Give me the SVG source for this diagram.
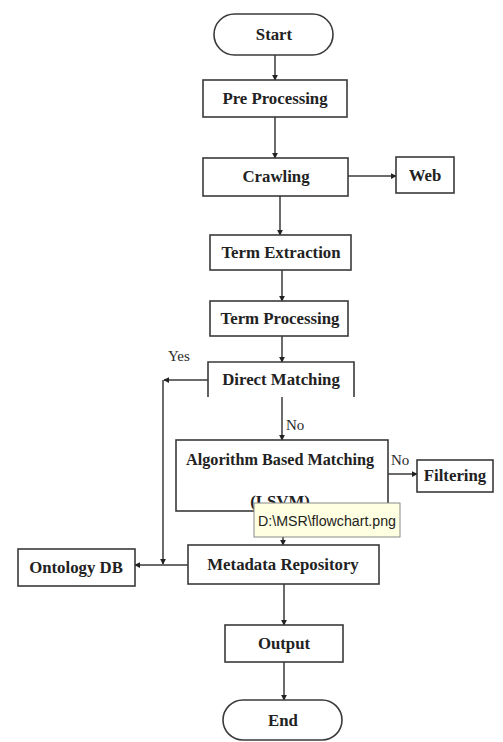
<svg xmlns="http://www.w3.org/2000/svg" width="503" height="742" viewBox="0 0 503 742">
<style>
.box{fill:#fff;stroke:#3a3a3a;stroke-width:1.6}
.t{font-family:"Liberation Serif","Times New Roman",serif;font-weight:bold;font-size:16.8px;fill:#222;text-anchor:middle}
.lbl{font-family:"Liberation Serif","Times New Roman",serif;font-size:15px;fill:#2a2a2a}
.ln{fill:none;stroke:#3a3a3a;stroke-width:1.5}
</style>
<defs>
<marker id="ah" viewBox="0 0 8 8" refX="7" refY="4" markerWidth="6" markerHeight="6" markerUnits="userSpaceOnUse" orient="auto">
<path d="M0,0 L8,4 L0,8 z" fill="#222"/>
</marker>
</defs>
<rect width="503" height="742" fill="#fff"/>
<g id="connectors">
<line class="ln" x1="275" y1="55" x2="275" y2="80" marker-end="url(#ah)"/>
<line class="ln" x1="275" y1="117" x2="275" y2="158" marker-end="url(#ah)"/>
<line class="ln" x1="348" y1="176" x2="396" y2="176" marker-end="url(#ah)"/>
<line class="ln" x1="280" y1="196" x2="280" y2="235" marker-end="url(#ah)"/>
<line class="ln" x1="282" y1="270" x2="282" y2="301" marker-end="url(#ah)"/>
<line class="ln" x1="282" y1="336" x2="282" y2="362" marker-end="url(#ah)"/>
<line class="ln" x1="208" y1="380" x2="164" y2="380" marker-end="url(#ah)"/>
<line class="ln" x1="163" y1="380" x2="163" y2="564" marker-end="url(#ah)"/>
<line class="ln" x1="282" y1="397" x2="282" y2="440" marker-end="url(#ah)"/>
<line class="ln" x1="388" y1="474" x2="417" y2="474" marker-end="url(#ah)"/>
<line class="ln" x1="283" y1="511" x2="283" y2="545" marker-end="url(#ah)"/>
<line class="ln" x1="188" y1="565" x2="135" y2="565" marker-end="url(#ah)"/>
<line class="ln" x1="284" y1="584" x2="284" y2="625" marker-end="url(#ah)"/>
<line class="ln" x1="284" y1="662" x2="284" y2="700" marker-end="url(#ah)"/>
<text class="lbl" x="168" y="361">Yes</text>
<text class="lbl" x="286" y="430">No</text>
<text class="lbl" x="391" y="465">No</text>
</g>
<g id="start">
<rect class="box" x="214" y="14" width="119" height="41" rx="20.5"/>
<text class="t" x="274" y="40">Start</text>
</g>
<g id="preprocessing">
<rect class="box" x="203" y="80" width="144" height="37"/>
<text class="t" x="275" y="104">Pre Processing</text>
</g>
<g id="crawling">
<rect class="box" x="203" y="158" width="145" height="38"/>
<text class="t" x="276" y="182">Crawling</text>
</g>
<g id="web">
<rect class="box" x="396" y="157" width="58" height="36"/>
<text class="t" x="425" y="181">Web</text>
</g>
<g id="termextraction">
<rect class="box" x="210" y="235" width="141" height="35"/>
<text class="t" x="281" y="258">Term Extraction</text>
</g>
<g id="termprocessing">
<rect class="box" x="210" y="301" width="138" height="35"/>
<text class="t" x="280" y="324">Term Processing</text>
</g>
<g id="directmatching">
<rect x="208" y="362" width="146" height="35" fill="#fff"/>
<path class="ln" d="M208,397 V362 H354 V397" style="stroke-width:1.6"/>
<text class="t" x="281" y="385">Direct Matching</text>
</g>
<g id="algorithm">
<rect class="box" x="176" y="440" width="212" height="71"/>
<text class="t" x="280" y="465" textLength="188" lengthAdjust="spacingAndGlyphs">Algorithm Based Matching</text>
<text class="t" x="280" y="507">(LSVM)</text>
</g>
<g id="filtering">
<rect class="box" x="417" y="460" width="76" height="32"/>
<text class="t" x="455" y="481">Filtering</text>
</g>
<g id="tooltip">
<rect x="254" y="503" width="146" height="34" fill="#ffffe1" stroke="#8a8a8a" stroke-width="1"/>
<text x="258" y="526" textLength="138" lengthAdjust="spacingAndGlyphs" style="font-family:'Liberation Sans',Arial,sans-serif;font-size:14px;fill:#222">D:\MSR\flowchart.png</text>
</g>
<g id="metadata">
<rect class="box" x="188" y="545" width="191" height="39"/>
<text class="t" x="283" y="570">Metadata Repository</text>
</g>
<g id="ontology">
<rect class="box" x="18" y="549" width="117" height="37"/>
<text class="t" x="76" y="573">Ontology DB</text>
</g>
<g id="output">
<rect class="box" x="225" y="625" width="118" height="37"/>
<text class="t" x="284" y="649">Output</text>
</g>
<g id="end">
<rect class="box" x="223" y="700" width="119" height="40" rx="20"/>
<text class="t" x="283" y="726">End</text>
</g>
</svg>
